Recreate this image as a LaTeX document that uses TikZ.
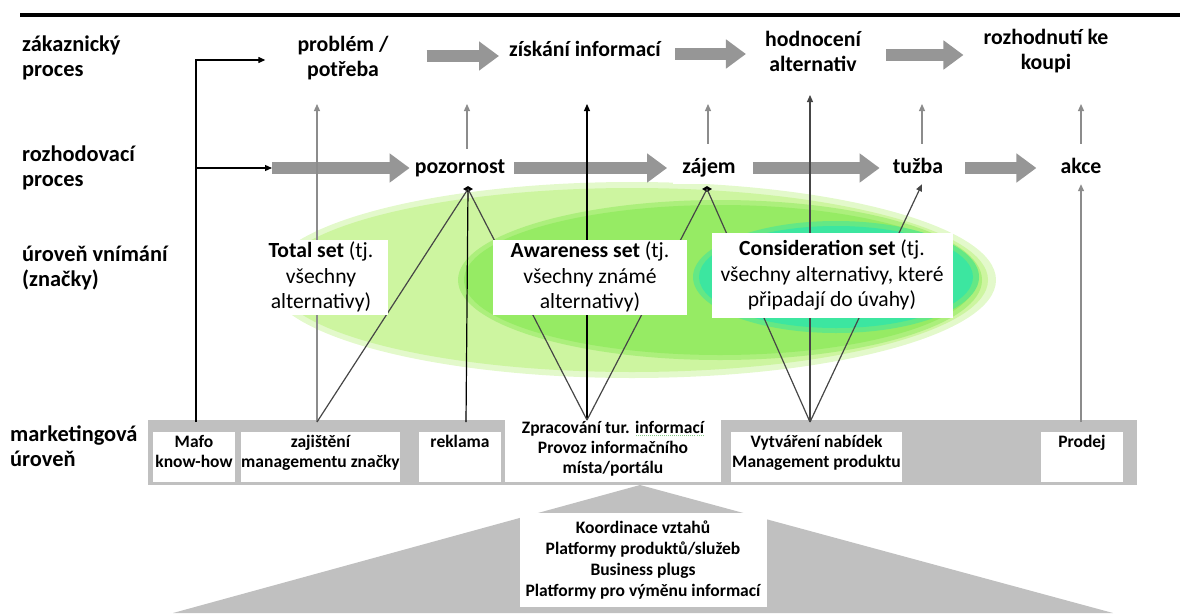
\documentclass[tikz,border=0pt]{standalone}
\usepackage{fontspec}
\setmainfont{Carlito}
\usetikzlibrary{arrows.meta,positioning,shapes.geometric}

\definecolor{arrowgray}{RGB}{150,150,150}
\definecolor{bargray}{RGB}{192,192,192}
\definecolor{upgray}{RGB}{140,140,140}
\definecolor{linedark}{RGB}{70,70,70}
\definecolor{setpale}{RGB}{205,245,160}
\definecolor{setmid}{RGB}{150,235,100}
\definecolor{setteal}{RGB}{60,230,160}
\definecolor{spellgreen}{RGB}{130,200,130}

% dotted spell-check mark under a word
\newcommand{\spellmark}[1]{\setbox0\hbox{#1}\rlap{\color{spellgreen}\raisebox{-3pt}{\hbox to \wd0{\xleaders\hbox to 2pt{\hss\rule{1pt}{1pt}\hss}\hfill}}}#1}

\tikzset{
  rowlabel/.style={anchor=west, align=left, inner sep=0pt, font=\fontsize{22.4}{25}\selectfont\bfseries},
  stage/.style={align=center, inner sep=2pt, font=\fontsize{21.8}{25}\selectfont\bfseries},
  stagebox/.style={stage, fill=white, inner xsep=9pt, inner ysep=6pt, text height=15pt, text depth=5pt},
  bigarrow/.style={draw=arrowgray, line width=12pt, -{Triangle[length=20pt,width=28pt]}},
  thinarrow/.style={line width=1.2pt, -{Triangle[length=7pt,width=6pt]}},
  fanline/.style={line width=1.2pt, draw=linedark},
  apexmark/.style={diamond, fill=black, inner sep=0pt, minimum width=10pt, minimum height=6pt},
  setbox/.style={fill=white, align=center, inner sep=0pt, font=\fontsize{21.6}{25.5}\selectfont},
  mktcell/.style={fill=white, anchor=north, inner xsep=0pt, inner ysep=3pt, font=\fontsize{17.5}{20}\selectfont\bfseries},
}

\begin{document}
\begin{tikzpicture}[x=1pt, y=-1pt]
  \useasboundingbox (0,0) rectangle (1180,613);
  \draw[line width=4pt] (20,15) -- (1180,15);

  % brand sets (soft rims first)
  \fill[setpale!55] (632,280) ellipse [x radius=364, y radius=98];
  \fill[setpale] (632,280) ellipse [x radius=356, y radius=92];
  \fill[setmid!60!setpale] (720,280) ellipse [x radius=262, y radius=80];
  \fill[setmid] (720,280) ellipse [x radius=256, y radius=75];
  \fill[setteal!55!setmid] (836,277) ellipse [x radius=143, y radius=56];
  \fill[setteal] (836,277) ellipse [x radius=137, y radius=51];

  % marketing level
  \fill[bargray] (148,420) rectangle (1137,485);
  \fill[bargray] (640,485) -- (173,613) -- (1113,613) -- cycle;
  \node[mktcell] (mafo) at (194,432) {\parbox[t][44pt][t]{82pt}{\centering Mafo\\know-how}};
  \node[mktcell] (zajisteni) at (320.5,432) {\parbox[t][44pt][t]{159pt}{\centering zajištění\\managementu značky}};
  \node[mktcell] (reklama) at (460,432) {\parbox[t][44pt][t]{82pt}{\centering reklama}};
  \node[mktcell] (zpracovani) at (613,418) {\parbox[t][58pt][t]{216pt}{\centering Zpracování tur. \spellmark{informací}\\Provoz informačního\\místa/portálu}};
  \node[mktcell] (vytvareni) at (816.5,432) {\parbox[t][44pt][t]{171pt}{\centering Vytváření nabídek\\Management produktu}};
  \node[mktcell] (prodej) at (1082,432) {\parbox[t][44pt][t]{82pt}{\centering Prodej}};
  \node[fill=white, minimum width=247pt, minimum height=94pt, align=center, inner sep=0pt,
        font=\fontsize{17.5}{21}\selectfont\bfseries] (koordinace) at (643,560)
        {Koordinace vztahů\\Platformy produktů/služeb\\Business plugs\\Platformy pro výměnu informací};

  % row labels
  \node[rowlabel] (lblzak) at (22,58) {zákaznický\\proces};
  \node[rowlabel] (lblroz) at (22,168) {rozhodovací\\proces};
  \node[rowlabel] (lblvnim) at (22,268) {úroveň vnímání\\(značky)};
  \node[rowlabel] (lblmkt) at (10,446) {marketingová\\úroveň};

  % customer process
  \node[stage] (problem) at (343,58) {problém /\\potřeba};
  \node[stage] (ziskani) at (585,49) {získání informací};
  \node[stage] (hodnoceni) at (813,51) {hodnocení\\alternativ};
  \node[stage] (rozhodnuti) at (1046,51) {rozhodnutí ke\\koupi};
  \draw[bigarrow, shorten <=36pt, shorten >=8pt] ([yshift=2pt]problem.east) -- ([yshift=2pt]problem.east -| ziskani.west);
  \draw[bigarrow, shorten <=12pt, shorten >=17pt] ([yshift=-5pt]ziskani.east) -- ([yshift=-5pt]ziskani.east -| hodnoceni.west);
  \draw[bigarrow, shorten <=23pt, shorten >=18pt] ([yshift=-4pt]hodnoceni.east) -- ([yshift=-4pt]hodnoceni.east -| rozhodnuti.west);

  % decision process
  \node[stagebox] (pozornost) at (460,168) {pozornost};
  \node[stagebox] (zajem) at (709,168) {zájem};
  \node[stagebox] (tuzba) at (918,168) {tužba};
  \node[stagebox] (akce) at (1081,168) {akce};

  \coordinate (lturn1) at (196,60);
  \coordinate (lturn2) at (196,168);
  \coordinate (bigstart) at (272,168);
  \coordinate (hubMafo) at (196,422);
  \coordinate (hubZaj) at (317,422);
  \coordinate (hubRek) at (466,422);
  \coordinate (hubZpr) at (587,420);
  \coordinate (hubVyt) at (810,422);
  \coordinate (hubPro) at (1081,422);
  \coordinate (tiprow) at (0,104);
  \coordinate (tiprowhigh) at (0,95);

  \draw[thinarrow, shorten >=30pt] (hubMafo) -- (lturn1) -- (lturn1 -| problem.west);
  \draw[thinarrow] (lturn2) -- (bigstart);
  \draw[bigarrow, shorten >=-4pt] (bigstart) -- (pozornost.west);
  \draw[bigarrow, shorten >=6pt] (pozornost) -- (zajem);
  \draw[bigarrow, shorten <=8pt, shorten >=4pt] (zajem) -- (tuzba);
  \draw[bigarrow, shorten <=13pt, shorten >=15pt] (tuzba) -- (akce);

  \draw[thinarrow, upgray, shorten <=3pt] ([xshift=7pt]pozornost.north) -- ([xshift=7pt]pozornost.north |- tiprow);
  \draw[thinarrow, upgray, shorten <=8pt] ([xshift=-1pt]zajem.north) -- ([xshift=-1pt]zajem.north |- tiprow);
  \draw[thinarrow, upgray, shorten <=8pt] ([xshift=4pt]tuzba.north) -- ([xshift=4pt]tuzba.north |- tiprow);
  \draw[thinarrow, upgray, shorten <=8pt] (akce.north) -- (akce.north |- tiprow);

  % marketing links
  \draw[thinarrow, upgray] (hubZaj) -- (hubZaj |- tiprow);
  \draw[thinarrow] (hubZpr) -- (hubZpr |- tiprow);
  \draw[thinarrow, linedark] (hubVyt) -- (hubVyt |- tiprowhigh);
  \node[apexmark] (pozApex) at (468,189) {};
  \node[apexmark] (zajApex) at (707,189) {};
  \draw[fanline] (pozApex.center) -- (hubZaj);
  \draw[fanline, black] (pozApex.center) -- (hubRek);
  \draw[fanline] (pozApex.center) -- (hubZpr);
  \draw[fanline] (zajApex.center) -- (hubZpr);
  \draw[fanline] (zajApex.center) -- (hubVyt);
  \draw[thinarrow, linedark] (hubVyt) -- ([xshift=4pt]tuzba.south);
  \draw[thinarrow, upgray] (hubPro) -- (akce.south);

  % set labels
  \node[setbox, minimum width=134pt, minimum height=75pt] (totalset) at (321,277) {\textbf{Total set} (tj.\\všechny\\alternativy)};
  \node[setbox, minimum width=194pt, minimum height=75pt] (awareset) at (590,277) {\textbf{Awareness set} (tj.\\všechny známé\\alternativy)};
  \node[setbox, minimum width=241pt, minimum height=85pt] (considset) at (832,275) {\textbf{Consideration set} (tj.\\všechny alternativy, které\\připadají do úvahy)};
\end{tikzpicture}
\end{document}
